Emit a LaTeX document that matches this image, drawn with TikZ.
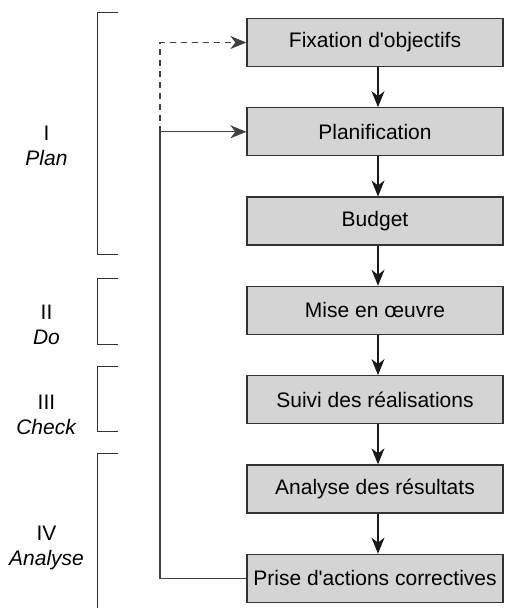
\documentclass[tikz,border=0pt]{standalone}
\usepackage{fontspec}
\setmainfont{Liberation Sans}[Ligatures=TeXOff]
\usetikzlibrary{arrows.meta}
\begin{document}
\begin{tikzpicture}[x=1pt,y=-1pt,
  stepbox/.style={draw=black!80,line width=1.3pt,fill=black!17,minimum width=256pt,minimum height=48pt,inner sep=0pt,text=black,font=\fontsize{21}{25}\selectfont},
  flow/.style={draw=black!90,line width=1.1pt,-{Stealth[length=16pt,width=13pt,inset=5pt]}},
  fb/.style={draw=black!75,line width=1.1pt},
  brack/.style={draw=black!80,line width=1pt},
  lab/.style={align=center,text=black,font=\fontsize{21}{25}\selectfont}]
\useasboundingbox (0,0) rectangle (506,608);
\node[stepbox] (p1) at (375,42.5) {Fixation d'objectifs};
\node[stepbox] (p2) at (375,131.8) {Planification};
\node[stepbox] (p3) at (375,221.1) {Budget};
\node[stepbox] (p4) at (375,310.4) {Mise en œuvre};
\node[stepbox] (p5) at (375,399.7) {Suivi des réalisations};
\node[stepbox] (p6) at (375,489) {Analyse des résultats};
\node[stepbox] (p7) at (375,578.3) {Prise d'actions correctives};
\foreach \a/\b in {p1/p2,p2/p3,p3/p4,p4/p5,p5/p6,p6/p7}
  \draw[flow] ([xshift=3pt]\a.south) -- ([xshift=3pt]\b.north);
\coordinate (fbj) at (160,131.8);
\coordinate (fbt) at (160,42.5);
\draw[fb] (p7.west) -| (fbj);
\draw[flow,draw=black!75] (fbj) -- (p2.west);
\draw[flow,draw=black!75,dash pattern=on 6pt off 5pt] (fbj) -- (fbt) -- (p1.west);
% brackets
\draw[brack] (118,12.7) -| (97,254) -- (118,254);
\draw[brack] (118,278) -| (97,344) -- (118,344);
\draw[brack] (118,366.7) -| (97,431.7) -- (118,431.7);
\draw[brack] (118,453) -| (97,608);
% labels
\node[lab] (l1) at (46.5,146) {I\\\textit{Plan}};
\node[lab] (l2) at (46.5,325) {II\\\textit{Do}};
\node[lab] (l3) at (46.5,414.5) {III\\\textit{Check}};
\node[lab] (l4) at (46.5,548) {IV\\\textit{Analyse}};
\end{tikzpicture}
\end{document}
